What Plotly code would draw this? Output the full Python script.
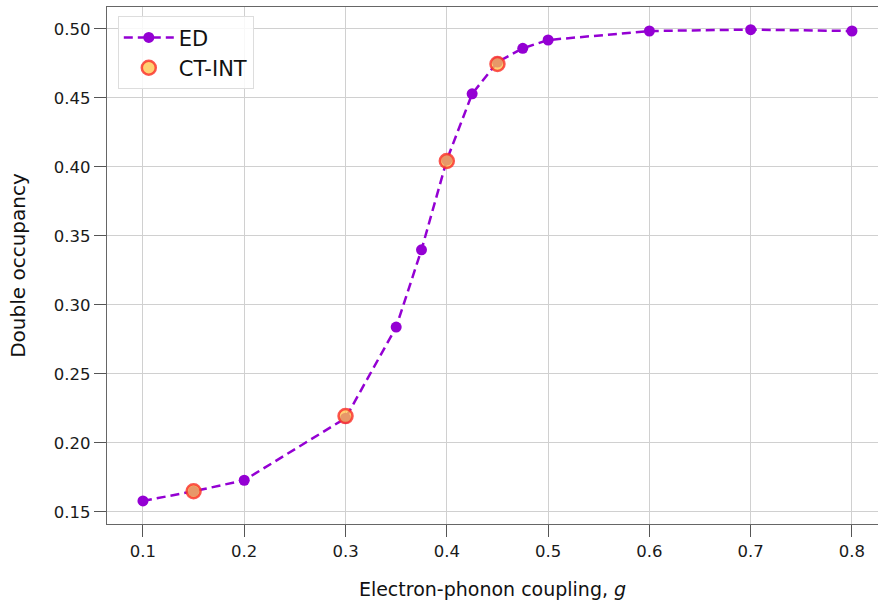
import plotly.graph_objects as go

ed_g = [0.1, 0.15, 0.2, 0.3, 0.35, 0.375, 0.4, 0.425, 0.45, 0.475, 0.5, 0.6, 0.7, 0.8]
ed_d = [0.158, 0.165, 0.173, 0.218, 0.284, 0.340, 0.405, 0.453, 0.476, 0.486, 0.492, 0.4985, 0.4995, 0.4985]
ct_g = [0.15, 0.3, 0.4, 0.45]
ct_d = [0.165, 0.2195, 0.4043, 0.4746]

x_ticks = [0.1, 0.2, 0.3, 0.4, 0.5, 0.6, 0.7, 0.8]
y_ticks = [0.15, 0.20, 0.25, 0.30, 0.35, 0.40, 0.45, 0.50]

font = "DejaVu Sans"
fig = go.Figure()
fig.add_trace(go.Scatter(
    x=ed_g, y=ed_d, mode="lines+markers", name="ED",
    line=dict(color="#9400D3", width=2.5, dash="9px,5px"),
    marker=dict(color="#9400D3", size=11),
))
fig.add_trace(go.Scatter(
    x=ct_g, y=ct_d, mode="markers", name="CT-INT",
    marker=dict(color="rgba(255,195,75,0.78)", size=14,
                line=dict(color="rgba(250,45,40,0.8)", width=2.5)),
))

axis_common = dict(
    showgrid=True, gridcolor="#d0d0d0", gridwidth=1,
    showline=True, linecolor="#666666", linewidth=1.2, mirror=True,
    ticks="outside", ticklen=12, tickcolor="#555555", tickwidth=1,
    tickfont=dict(family=font, size=16.5, color="#1a1a1a"),
    zeroline=False,
)
fig.update_xaxes(range=[0.0645, 0.8257], tickvals=x_ticks,
                 ticktext=[f"{v:.1f}" for v in x_ticks],
                 title=dict(text="Electron-phonon coupling, <i>g</i>",
                            font=dict(family=font, size=19, color="#111111"), standoff=22),
                 **axis_common)
fig.update_yaxes(range=[0.1413, 0.5159], tickvals=y_ticks,
                 ticktext=[f"{v:.2f}" for v in y_ticks],
                 title=dict(text="Double occupancy",
                            font=dict(family=font, size=20, color="#111111"), standoff=22),
                 **axis_common)
fig.update_layout(
    width=878, height=605,
    margin=dict(l=107, r=0, t=7, b=81),
    plot_bgcolor="white", paper_bgcolor="white",
    font=dict(family=font),
    showlegend=True,
    legend=dict(x=0.014, y=0.982, xanchor="left", yanchor="top",
                bgcolor="rgba(255,255,255,0.85)", bordercolor="#dddddd", borderwidth=1,
                font=dict(family=font, size=21, color="#111111"),
                itemwidth=50, tracegroupgap=4),
)
fig.write_html("out.html", config={"displayModeBar": False},
               post_script="document.body.style.margin='0';window.dispatchEvent(new Event('resize'));")
